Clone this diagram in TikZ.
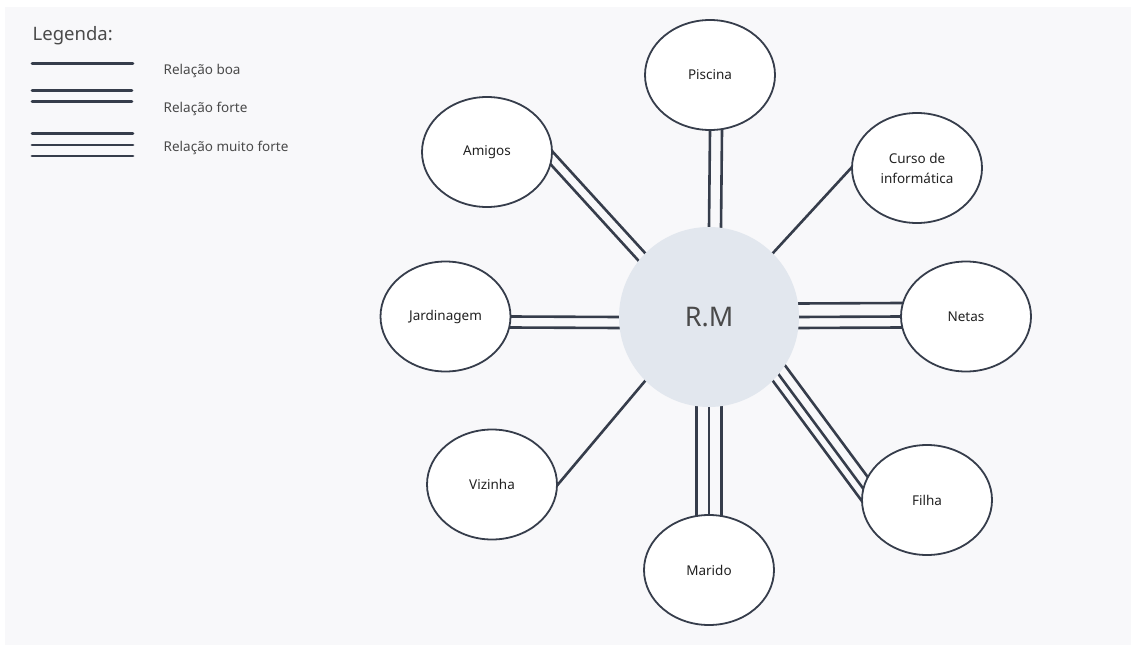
\documentclass[tikz,border=0pt]{standalone}
\usepackage{fontspec}
\setmainfont{Noto Sans}
\usetikzlibrary{calc,shapes.geometric}
\definecolor{bgc}{HTML}{F8F8FA}
\definecolor{linec}{HTML}{363D4B}
\definecolor{centerc}{HTML}{E2E7EE}
\definecolor{txtc}{HTML}{222222}
\definecolor{graytxt}{HTML}{4A4A4A}
\pgfdeclarelayer{back}
\pgfdeclarelayer{bg}
\pgfsetlayers{back,bg,main}
\tikzset{
  bubble/.style={ellipse, draw=linec, line width=1.8pt, fill=white,
    minimum width=130pt, minimum height=110pt, inner sep=0pt,
    text=txtc, align=center, font=\fontsize{13.5}{20}\selectfont},
  conn/.style={draw=linec, line width=2.6pt, shorten <=-6pt, shorten >=-6pt},
  legline/.style={draw=linec, line width=2.8pt, line cap=round},
  legtext/.style={anchor=base west, inner sep=0pt, text=graytxt, font=\fontsize{13.5}{16}\selectfont}
}
\newcommand\relink[3]{%
  \foreach \o in {#3}{\draw[conn] ($(#1)!\o pt!90:(#2)$) -- ($(#2)!\o pt!-90:(#1)$);}}
\begin{document}
\begin{tikzpicture}[x=1pt,y=-1pt]
\useasboundingbox (0,0) rectangle (1134,647);
\begin{pgfonlayer}{back}
  \fill[bgc] (5,7) rectangle (1131,645);
\end{pgfonlayer}

% legend
\node[legtext, font=\fontsize{18.5}{22}\selectfont] (legtitle) at (32.5,40.5) {Legenda:};
\draw[legline] (32,63.3) -- (133,63.3);
\draw[legline] (32,90.7) -- (132,90.7);
\draw[legline] (32,101.7) -- (132,101.7);
\draw[legline] (32,133.3) -- (133,133.3);
\draw[legline] (32,145) -- (133,145);
\draw[legline] (32,156) -- (133,156);
\node[legtext] (l1) at (163.5,75) {Relação boa};
\node[legtext] (l2) at (163.5,112.7) {Relação forte};
\node[legtext] (l3) at (163.5,151.7) {Relação muito forte};

% center
\node[circle, fill=centerc, minimum size=180pt, inner sep=0pt, text=graytxt,
  font=\fontsize{27}{30}\selectfont] (rm) at (709,317) {R.M};

% bubbles
\node[bubble] (piscina) at (710,75) {Piscina};
\node[bubble] (amigos) at (487,152) {Amigos};
\node[bubble] (curso) at (917,168) {Curso de\\informática};
\node[bubble] (jard) at (445.5,316.5) {Jardinagem};
\node[bubble] (netas) at (966,316.5) {Netas};
\node[bubble] (vizinha) at (492,484.5) {Vizinha};
\node[bubble] (marido) at (709,570) {Marido};
\node[bubble] (filha) at (927,500) {Filha};

% connectors
\begin{pgfonlayer}{bg}
  \relink{rm.north}{piscina.south}{0,-12}
  \relink{amigos.east}{rm.135}{0,-10}
  \relink{rm.45}{curso.west}{0}
  \relink{jard.east}{rm.west}{0,-11}
  \relink{rm.east}{netas.west}{13.5,0,-11}
  \relink{rm.-135}{vizinha.east}{0}
  \relink{rm.south}{marido.north}{12.5,0,-12.5}
  \relink{rm.-45}{filha.west}{0,8.5,19}
\end{pgfonlayer}
\end{tikzpicture}
\end{document}
